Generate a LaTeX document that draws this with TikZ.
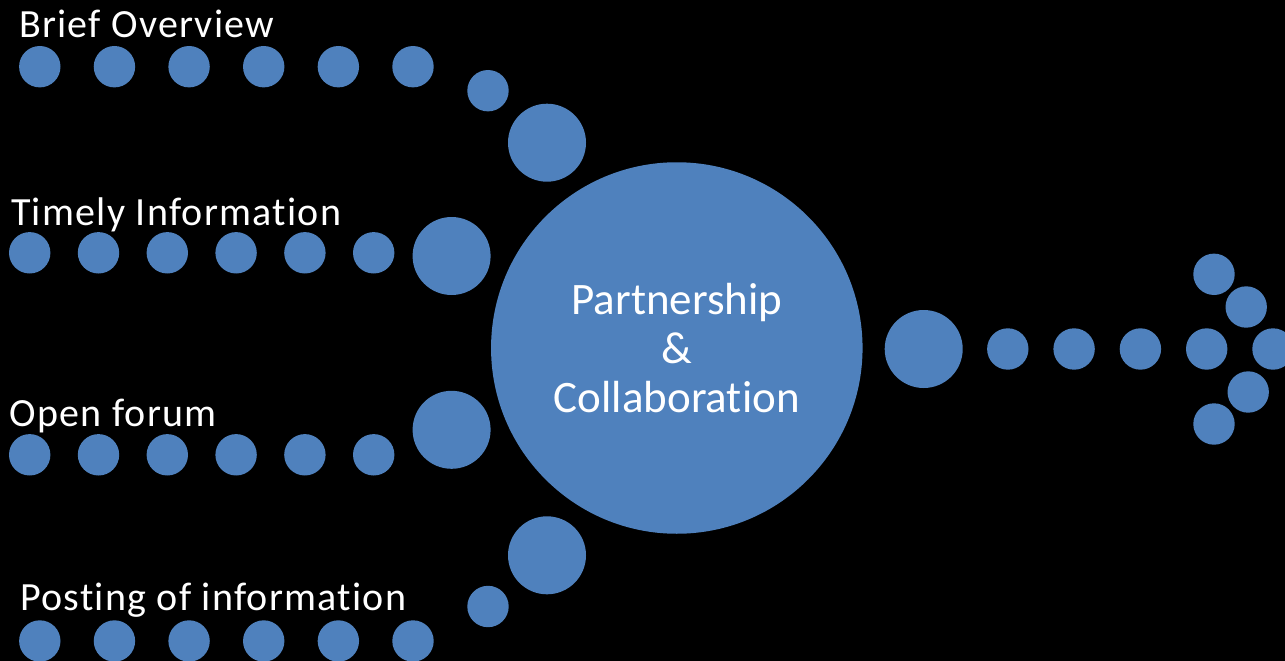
\documentclass[tikz,border=0pt]{standalone}
\usepackage{fontspec}
\setmainfont[Ligatures=NoCommon]{Carlito}
\newfontfamily\labelfont[Ligatures=NoCommon,LetterSpace=3.2]{Carlito}
\usepackage{xcolor}
\usetikzlibrary{positioning}
\definecolor{dotblue}{RGB}{79,129,189}

\begin{document}
\begin{tikzpicture}[x=1pt,y=-1pt,
	dot/.style={circle,fill=dotblue,inner sep=0pt,minimum size=41.4pt},
	bigdot/.style={circle,fill=dotblue,inner sep=0pt,minimum size=78pt},
	hub/.style={circle,fill=dotblue,inner sep=0pt,minimum size=371.5pt,text=white,
		align=center,font=\fontsize{45}{49}\selectfont},
	caption/.style={anchor=base west,inner sep=0pt,text=white,font=\labelfont\fontsize{40}{44}\selectfont}]
	\fill[black] (0,0) rectangle (1285,661);
	\useasboundingbox (0,0) rectangle (1285,661);
	% rows of dots on the left
	\foreach \i in {1,...,6} {
		\node[dot] (o\i) at ({39.8+74.64*(\i-1)},66.7) {};
		\node[dot] (t\i) at ({29.7+68.8*(\i-1)},252.8) {};
		\node[dot] (f\i) at ({29.7+68.8*(\i-1)},454.8) {};
		\node[dot] (p\i) at ({39.8+74.64*(\i-1)},641) {};
	}
	\node[dot] (o7) at (488,90.7) {};
	\node[bigdot] (o8) at (547,142.7) {};
	\node[bigdot] (t7) at (451.6,256) {};
	\node[bigdot] (f7) at (451.6,429.8) {};
	\node[dot] (p7) at (488,606.5) {};
	\node[bigdot] (p8) at (547,555.3) {};
	% labels
	\node[caption] (overview) at (19,37.7) {Brief Overview};
	\node[caption] (timely) at (11,225) {Timely Information};
	\node[caption] (forum) at (9.5,426) {Open forum};
	\node[caption] (posting) at (20,610.7) {Posting of information};
	% centre
	\node[hub] (hub) at (676.8,348) {Partnership\\\&\\Collaboration};
	% arrow to the right
	\node[bigdot] (r0) at (923.7,349) {};
	\foreach \i in {1,...,5}
		\node[dot] (r\i) at ({1007.8+66.3*(\i-1)},349) {};
	\node[dot] (a1) at (1214,274.3) {};
	\node[dot] (a2) at (1246.2,307) {};
	\node[dot] (a3) at (1248.2,392) {};
	\node[dot] (a4) at (1214,424) {};
\end{tikzpicture}
\end{document}
